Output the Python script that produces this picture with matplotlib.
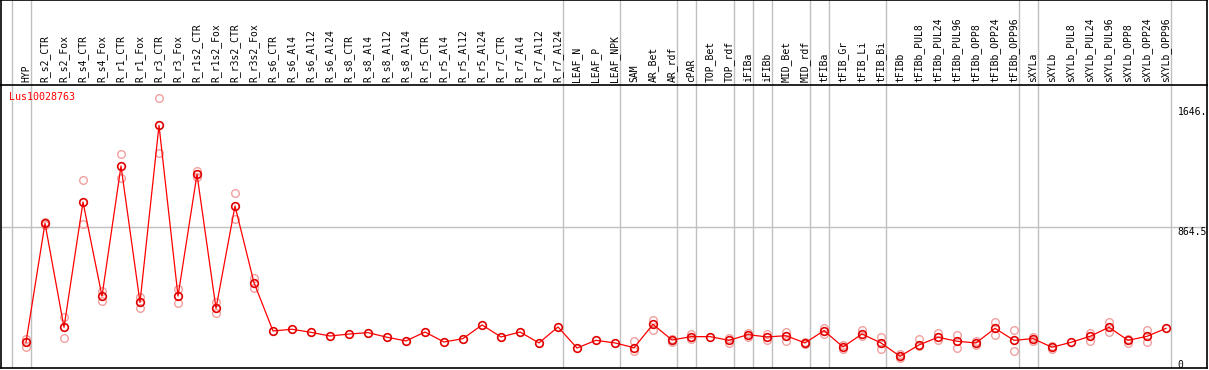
import numpy as np
import matplotlib
matplotlib.use("Agg")
import matplotlib.pyplot as plt

# sample names (columns)
samples = ["HYP", "R_s2_CTR", "R_s2_Fox", "R_s4_CTR", "R_s4_Fox", "R_r1_CTR", "R_r1_Fox",
           "R_r3_CTR", "R_r3_Fox", "R_r1s2_CTR", "R_r1s2_Fox", "R_r3s2_CTR", "R_r3s2_Fox",
           "R_s6_CTR", "R_s6_Al4", "R_s6_Al12", "R_s6_Al24", "R_s8_CTR", "R_s8_Al4",
           "R_s8_Al12", "R_s8_Al24", "R_r5_CTR", "R_r5_Al4", "R_r5_Al12", "R_r5_Al24",
           "R_r7_CTR", "R_r7_Al4", "R_r7_Al12", "R_r7_Al24", "LEAF_N", "LEAF_P", "LEAF_NPK",
           "SAM", "AR_Bet", "AR_rdf", "cPAR", "TOP_Bet", "TOP_rdf", "iFIBa", "iFIBb",
           "MID_Bet", "MID_rdf", "tFIBa", "tFIB_Gr", "tFIB_Li", "tFIB_Bi", "tFIBb",
           "tFIBb_PUL8", "tFIBb_PUL24", "tFIBb_PUL96", "tFIBb_OPP8", "tFIBb_OPP24",
           "tFIBb_OPP96", "sXYLa", "sXYLb", "sXYLb_PUL8", "sXYLb_PUL24", "sXYLb_PUL96",
           "sXYLb_OPP8", "sXYLb_OPP24", "sXYLb_OPP96"]

# mean expression
mean_vals = [115, 889, 213, 1028, 416, 1262, 375, 1527, 416, 1208, 336, 1002, 503,
             189, 200, 180, 156, 169, 178, 148, 124, 182, 117, 139, 228, 150, 182, 111, 215,
             78, 128, 111, 80, 232, 130, 152, 152, 128, 165, 150, 158, 111, 191, 85, 169,
             111, 24, 98, 148, 122, 111, 206, 128, 139, 83, 115, 154, 213, 128, 154, 206]

nan = np.nan
# replicates
rep_a = [137, 880, 280, 1171, 449, 1340, 412, 1703, 460, 1232, 375, 1085, 532,
         nan, nan, nan, nan, nan, nan, nan, nan, nan, nan, nan, nan, nan, nan, nan, nan,
         nan, nan, nan, 124, 260, 135, 169, nan, 141, 174, 169, 180, 119, 210, 95, 195,
         152, 39, 135, 174, 163, 126, 245, 197, 152, 91, nan, 178, 247, 139, 195, nan]
rep_b = [87, 895, 141, 883, 384, 1182, 336, 1349, 369, 1189, 304, 915, 466,
         nan, nan, nan, nan, nan, nan, nan, nan, nan, nan, nan, nan, nan, nan, nan, nan,
         nan, nan, nan, 59, 195, 119, 135, nan, 109, 148, 130, 126, 102, 169, 74, 156,
         70, 11, 93, 130, 80, 98, 163, 59, 124, 74, nan, 126, 182, 109, 117, nan]

# column indexes after which a group separator is drawn
group_ends = [-1, 0, 28, 31, 34, 35, 37, 38, 39, 41, 42, 45, 52, 53, 60]

gene = "Lus10028763"
ytick_vals = [1646.0, 864.5, 0]
ytick_text = ["1646.", "864.5", "0"]

W, H = 1209, 370
fig = plt.figure(figsize=(W / 100, H / 100), dpi=100)

x0, x1 = 1, 1207
hdr_bot, plot_bot = 85, 368
ax = fig.add_axes([x0 / W, (H - plot_bot) / H, (x1 - x0) / W, (plot_bot - hdr_bot) / H])
hd = fig.add_axes([x0 / W, (H - hdr_bot) / H, (x1 - x0) / W, hdr_bot / H], sharex=ax)

x = np.arange(len(samples))
step = 19.0
xl = ((x0 - 26) / step, (x1 - 26) / step)
scale = 0.1537  # px per unit
ax.set_xlim(*xl)
ax.set_ylim((360 - plot_bot) / scale, (360 - hdr_bot) / scale)
hd.set_ylim(0, 1)

mono = "DejaVu Sans Mono"

for g in group_ends:
    for a in (ax, hd):
        a.axvline(g + 4.5 / step, color="#c0c0c0", lw=1.0, zorder=0)
ax.axhline(864.5, color="#c0c0c0", lw=1.0, zorder=0)

ax.plot(x, rep_a, "o", ms=5.5, mfc="none", mec="#f0a0a0", mew=1.0, zorder=2)
ax.plot(x, rep_b, "o", ms=5.5, mfc="none", mec="#f0a0a0", mew=1.0, zorder=2)
ax.plot(x, mean_vals, "-", color="#ff0000", lw=0.9, zorder=3)
ax.plot(x, mean_vals, "o", ms=5.5, mfc="none", mec="#e00000", mew=1.2, zorder=4)

ax.text((9 - 26) / step, 1 - 12 / (plot_bot - hdr_bot), gene, color="#ff0000",
        family=mono, fontsize=7.2, va="center", ha="left",
        transform=ax.get_xaxis_transform())

for v, t in zip(ytick_vals, ytick_text):
    ax.text((1177.5 - 26) / step, v, t, family=mono, fontsize=7, va="top", ha="left")

for i, s in enumerate(samples):
    hd.text(i, 0.03, s, rotation=90, family=mono, fontsize=7, ha="center", va="bottom")

for a in (ax, hd):
    a.set_xticks([])
    a.set_yticks([])
    for sp in a.spines.values():
        sp.set_color("black")
        sp.set_linewidth(1.2)
ax.spines["top"].set_visible(False)

fig.savefig("out.png", dpi=100)
